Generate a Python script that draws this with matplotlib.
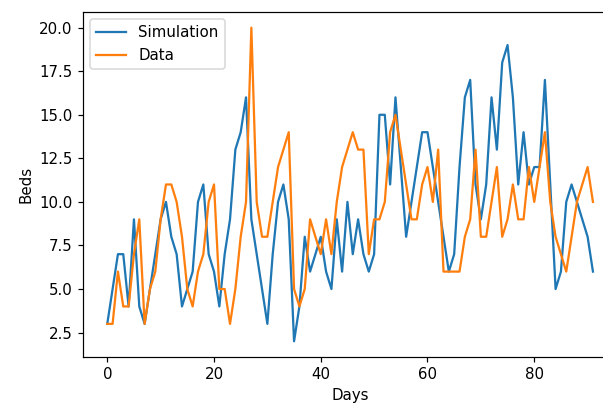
import matplotlib
matplotlib.use("Agg")
import matplotlib.pyplot as plt
import numpy as np

# values, one per day
days = list(range(92))
simulation = [3, 5, 7, 7, 4, 9, 4, 3, 5, 7,
              9, 10, 8, 7, 4, 5, 6, 10, 11, 7,
              6, 4, 7, 9, 13, 14, 16, 9, 7, 5,
              3, 7, 10, 11, 9, 2, 4, 8, 6, 7,
              8, 6, 5, 9, 6, 10, 7, 9, 7, 6,
              7, 15, 15, 11, 16, 12, 8, 10, 12, 14,
              14, 12, 10, 8, 6, 7, 12, 16, 17, 11,
              9, 11, 16, 13, 18, 19, 16, 11, 14, 11,
              12, 12, 17, 11, 5, 6, 10, 11, 10, 9,
              8, 6]
data = [3, 3, 6, 4, 4, 7, 9, 3, 5, 6,
        9, 11, 11, 10, 8, 5, 4, 6, 7, 10,
        11, 5, 5, 3, 5, 8, 10, 20, 10, 8,
        8, 10, 12, 13, 14, 5, 4, 5, 9, 8,
        7, 9, 7, 10, 12, 13, 14, 13, 13, 7,
        9, 9, 10, 14, 15, 13, 11, 9, 9, 11,
        12, 10, 13, 6, 6, 6, 6, 8, 9, 13,
        8, 8, 10, 12, 8, 9, 11, 9, 9, 12,
        10, 12, 14, 10, 8, 7, 6, 8, 10, 11,
        12, 10]

dpi = 108
fig = plt.figure(figsize=(603 / dpi, 407 / dpi), dpi=dpi)
ax = fig.add_axes([0.1376, 0.1229, 0.886, 0.8477])
ax.plot(days, simulation, label="Simulation")
ax.plot(days, data, label="Data")
ax.set_yticks(np.arange(2.5, 20.1, 2.5))
ax.set_xticks([0, 20, 40, 60, 80])
ax.set_xlabel("Days")
ax.set_ylabel("Beds")
ax.legend(loc="upper left")

fig.savefig("out.png", dpi=dpi)
